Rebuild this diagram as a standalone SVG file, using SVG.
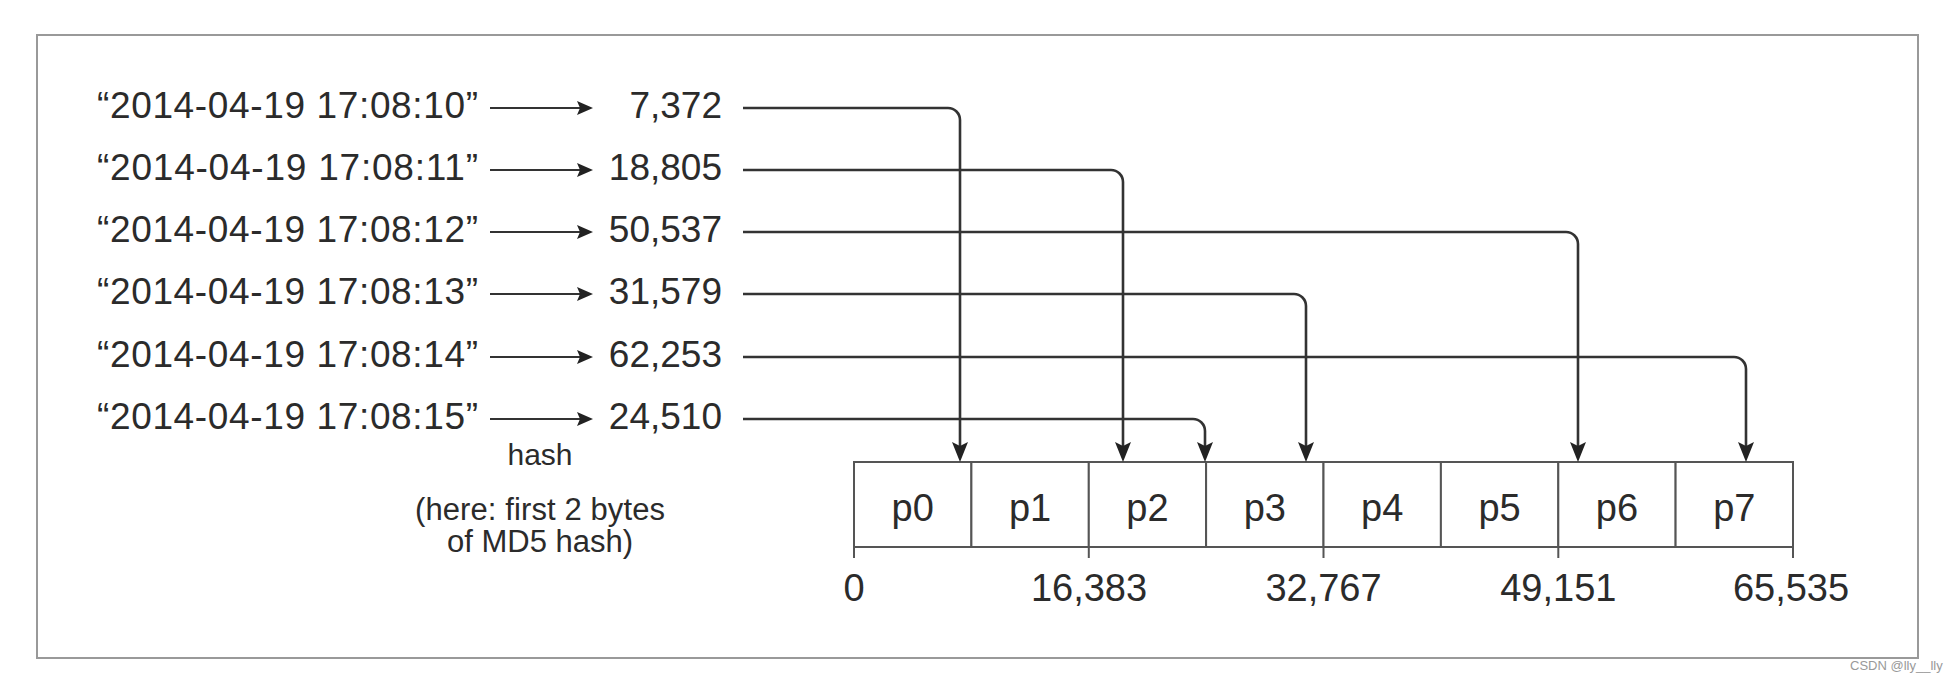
<svg xmlns="http://www.w3.org/2000/svg" width="1954" height="682" viewBox="0 0 1954 682">
<style>
  .t { font-family: "Liberation Sans", Arial, sans-serif; fill: #2b2b2b; }
  .key { font-size: 37px; }
  .num { font-size: 37px; text-anchor: end; }
  .lbl { font-size: 38px; text-anchor: middle; }
  .note { font-size: 30px; text-anchor: middle; }
  .conn { fill: none; stroke: #333; stroke-width: 2.6; }
  .hash { fill: none; stroke: #333; stroke-width: 2.2; }
  .cell { fill: #fff; stroke: #555; stroke-width: 2; }
  .edge { stroke: #555; stroke-width: 2; fill: none; }
</style>
<defs>
  <marker id="down" markerUnits="userSpaceOnUse" viewBox="0 0 20 16" markerWidth="20" markerHeight="16" refX="10" refY="8" orient="auto">
    <path d="M0,0 L20,8 L0,16 L4,8 Z" fill="#222"/>
  </marker>
  <marker id="right" markerUnits="userSpaceOnUse" viewBox="0 0 16 14" markerWidth="16" markerHeight="14" refX="6" refY="7" orient="auto">
    <path d="M0,0 L16,7 L0,14 L3,7 Z" fill="#222"/>
  </marker>
</defs>
<rect width="1954" height="682" fill="#fff"/>
<rect id="frame" x="37" y="35" width="1881" height="623" fill="none" stroke="#999" stroke-width="2"/>

<g id="keys" class="t key">
  <text id="k0" x="97" y="118" textLength="381">“2014-04-19 17:08:10”</text>
  <text id="k1" x="97" y="180" textLength="381">“2014-04-19 17:08:11”</text>
  <text id="k2" x="97" y="242" textLength="381">“2014-04-19 17:08:12”</text>
  <text id="k3" x="97" y="304" textLength="381">“2014-04-19 17:08:13”</text>
  <text id="k4" x="97" y="367" textLength="381">“2014-04-19 17:08:14”</text>
  <text id="k5" x="97" y="429" textLength="381">“2014-04-19 17:08:15”</text>
</g>

<g id="hashes" class="t num">
  <text id="h0" x="722" y="118">7,372</text>
  <text id="h1" x="722" y="180">18,805</text>
  <text id="h2" x="722" y="242">50,537</text>
  <text id="h3" x="722" y="304">31,579</text>
  <text id="h4" x="722" y="367">62,253</text>
  <text id="h5" x="722" y="429">24,510</text>
</g>

<g id="hash-note" class="t note">
  <text x="540" y="465">hash</text>
  <text x="540" y="520" font-size="31" textLength="250">(here: first 2 bytes</text>
  <text x="540" y="552" font-size="31">of MD5 hash)</text>
</g>

<g id="partitions">
  <g id="p0"><rect class="cell" x="854" y="462" width="117.4" height="85"/><text class="t lbl" x="912.7" y="521">p0</text></g>
  <g id="p1"><rect class="cell" x="971.4" y="462" width="117.4" height="85"/><text class="t lbl" x="1030.1" y="521">p1</text></g>
  <g id="p2"><rect class="cell" x="1088.8" y="462" width="117.3" height="85"/><text class="t lbl" x="1147.4" y="521">p2</text></g>
  <g id="p3"><rect class="cell" x="1206.1" y="462" width="117.4" height="85"/><text class="t lbl" x="1264.8" y="521">p3</text></g>
  <g id="p4"><rect class="cell" x="1323.5" y="462" width="117.4" height="85"/><text class="t lbl" x="1382.2" y="521">p4</text></g>
  <g id="p5"><rect class="cell" x="1440.9" y="462" width="117.4" height="85"/><text class="t lbl" x="1499.6" y="521">p5</text></g>
  <g id="p6"><rect class="cell" x="1558.3" y="462" width="117.3" height="85"/><text class="t lbl" x="1617" y="521">p6</text></g>
  <g id="p7"><rect class="cell" x="1675.6" y="462" width="117.4" height="85"/><text class="t lbl" x="1734.3" y="521">p7</text></g>
</g>

<g id="axis">
  <path class="edge" d="M854,547 V558 M1088.8,547 V558 M1323.5,547 V558 M1558.3,547 V558 M1793,547 V558"/>
  <text class="t lbl" x="854" y="601">0</text>
  <text class="t lbl" x="1089" y="601">16,383</text>
  <text class="t lbl" x="1323.5" y="601">32,767</text>
  <text class="t lbl" x="1558.3" y="601">49,151</text>
  <text class="t lbl" x="1791" y="601">65,535</text>
</g>

<g id="connectors">
  <path class="hash" d="M490,108 H583" marker-end="url(#right)"/>
  <path class="hash" d="M490,170 H583" marker-end="url(#right)"/>
  <path class="hash" d="M490,232 H583" marker-end="url(#right)"/>
  <path class="hash" d="M490,294 H583" marker-end="url(#right)"/>
  <path class="hash" d="M490,357 H583" marker-end="url(#right)"/>
  <path class="hash" d="M490,419 H583" marker-end="url(#right)"/>

  <path class="conn" d="M743,108 H948 A12,12 0 0 1 960,120 V452" marker-end="url(#down)"/>
  <path class="conn" d="M743,170 H1111 A12,12 0 0 1 1123,182 V452" marker-end="url(#down)"/>
  <path class="conn" d="M743,232 H1566 A12,12 0 0 1 1578,244 V452" marker-end="url(#down)"/>
  <path class="conn" d="M743,294 H1294 A12,12 0 0 1 1306,306 V452" marker-end="url(#down)"/>
  <path class="conn" d="M743,357 H1734 A12,12 0 0 1 1746,369 V452" marker-end="url(#down)"/>
  <path class="conn" d="M743,419 H1193 A12,12 0 0 1 1205,431 V452" marker-end="url(#down)"/>
</g>

<text id="watermark" x="1850" y="670" font-family="Liberation Sans, Arial, sans-serif" font-size="13" fill="#999">CSDN @lly__lly</text>
</svg>
